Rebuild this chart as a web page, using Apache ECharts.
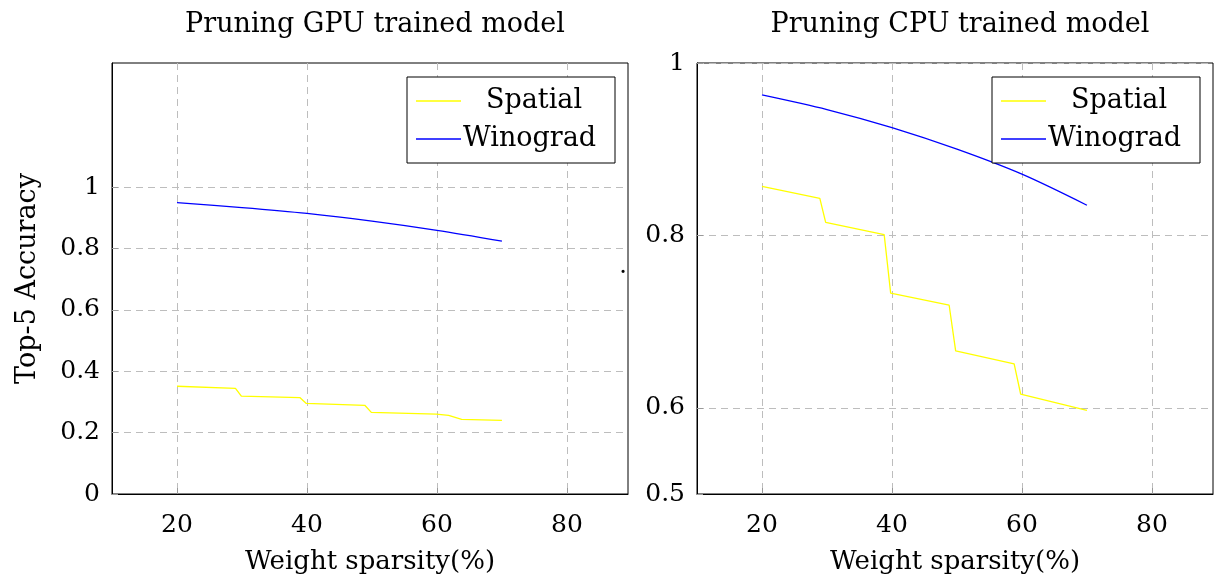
<!DOCTYPE html>
<html>
<head>
<meta charset="utf-8">
<script src="https://cdn.jsdelivr.net/npm/echarts@6/dist/echarts.min.js"></script>
<style>
  html, body { margin: 0; padding: 0; background: #fff; }
  #main { width: 1225px; height: 583px; }
</style>
</head>
<body>
<div id="main"></div>
<script>
// sparsity (%) on x, top-5 accuracy on y
var xTicks = [20, 40, 60, 80]
var gpuYTicks = [0, 0.2, 0.4, 0.6, 0.8, 1]
var cpuYTicks = [0.5, 0.6, 0.8, 1]

var gpuSpatialX = [20, 29, 29.9, 38.9, 39.9, 48.9, 49.9, 59.9, 61.8, 63.8, 70]
var gpuSpatialY = [0.351, 0.344, 0.319, 0.314, 0.295, 0.289, 0.266, 0.260, 0.256, 0.243, 0.240]
var gpuWinoX = [20, 30, 40, 50, 60, 70]
var gpuWinoY = [0.949, 0.933, 0.914, 0.889, 0.859, 0.824]

var cpuSpatialX = [20, 28.9, 29.8, 38.8, 39.8, 48.8, 49.8, 58.8, 59.8, 70]
var cpuSpatialY = [0.857, 0.843, 0.815, 0.801, 0.733, 0.719, 0.666, 0.651, 0.616, 0.597]
var cpuWinoX = [20, 30, 40, 50, 60, 70]
var cpuWinoY = [0.963, 0.946, 0.925, 0.900, 0.871, 0.835]

var font = '"DejaVu Serif", "Liberation Serif", serif'

function pairs (xs, ys) {
    return xs.map(function (x, i) { return [x, ys[i]] })
}

function xAxisOf (idx) {
    return {
        gridIndex: idx,
        type: 'value',
        min: 10,
        max: 89.4,
        name: 'Weight sparsity(%)',
        nameLocation: 'middle',
        nameGap: 55,
        nameTextStyle: { fontFamily: font, fontSize: 26, color: '#000' },
        axisLine: { show: true, onZero: false, lineStyle: { color: '#000', width: 1 } },
        axisTick: { show: true, inside: true, length: 6, customValues: xTicks, lineStyle: { color: '#999' } },
        axisLabel: { customValues: xTicks, margin: 19, fontFamily: font, fontSize: 25, color: '#000' },
        splitLine: { show: true, lineStyle: { color: '#bdbdbd', type: [7, 5], width: 1 } }
    }
}

function yAxisOf (idx, min, max, ticks) {
    return {
        gridIndex: idx,
        type: 'value',
        min: min,
        max: max,
        axisLine: { show: true, onZero: false, lineStyle: { color: '#000', width: 1 } },
        axisTick: { show: true, inside: true, length: 6, customValues: ticks, lineStyle: { color: '#999' } },
        axisLabel: { customValues: ticks, margin: 12, fontFamily: font, fontSize: 25, color: '#000' },
        splitLine: { show: true, lineStyle: { color: '#bdbdbd', type: [7, 5], width: 1 } }
    }
}

function lineSeries (name, idx, data, color, smooth) {
    return {
        name: name,
        type: 'line',
        xAxisIndex: idx,
        yAxisIndex: idx,
        data: data,
        smooth: smooth,
        showSymbol: false,
        lineStyle: { color: color, width: 1.3 },
        itemStyle: { color: color },
        z: 3
    }
}

// legend box drawn by hand, pgfplots style
function legendBox (x0) {
    return [
        { type: 'rect', z: 100, shape: { x: x0, y: 77, width: 208, height: 86 },
          style: { fill: '#fff', stroke: '#000', lineWidth: 1 } },
        { type: 'line', z: 101, shape: { x1: x0 + 9, y1: 101, x2: x0 + 54, y2: 101 },
          style: { stroke: 'yellow', lineWidth: 1.3 } },
        { type: 'line', z: 101, shape: { x1: x0 + 9, y1: 139, x2: x0 + 54, y2: 139 },
          style: { stroke: 'blue', lineWidth: 1.3 } },
        { type: 'text', z: 101, x: x0 + 127, y: 101,
          style: { text: 'Spatial', font: '27px ' + font, fill: '#000', align: 'center', verticalAlign: 'middle' } },
        { type: 'text', z: 101, x: x0 + 56, y: 139,
          style: { text: 'Winograd', font: '27px ' + font, fill: '#000', align: 'left', verticalAlign: 'middle' } }
    ]
}

var chart = echarts.init(document.getElementById('main'), null, { renderer: 'canvas' })

chart.setOption({
    backgroundColor: '#fff',
    animation: false,
    title: [
        { text: 'Pruning GPU trained model', left: 370, top: 6, textAlign: 'center',
          textStyle: { fontFamily: font, fontSize: 27, fontWeight: 'normal', color: '#000' } },
        { text: 'Pruning CPU trained model', left: 955, top: 6, textAlign: 'center',
          textStyle: { fontFamily: font, fontSize: 27, fontWeight: 'normal', color: '#000' } }
    ],
    grid: [
        { left: 112, top: 63, width: 516, height: 431, show: true, borderColor: '#000', borderWidth: 1, backgroundColor: 'transparent' },
        { left: 697, top: 63, width: 516, height: 431, show: true, borderColor: '#000', borderWidth: 1, backgroundColor: 'transparent' }
    ],
    xAxis: [xAxisOf(0), xAxisOf(1)],
    yAxis: [
        Object.assign(yAxisOf(0, 0, 1.404, gpuYTicks), {
            name: 'Top-5 Accuracy',
            nameLocation: 'middle',
            nameGap: 71,
            nameRotate: 90,
            nameTextStyle: { fontFamily: font, fontSize: 27, color: '#000' }
        }),
        yAxisOf(1, 0.5, 1, cpuYTicks)
    ],
    series: [
        lineSeries('Spatial', 0, pairs(gpuSpatialX, gpuSpatialY), 'yellow', false),
        lineSeries('Winograd', 0, pairs(gpuWinoX, gpuWinoY), 'blue', 0.3),
        lineSeries('Spatial', 1, pairs(cpuSpatialX, cpuSpatialY), 'yellow', false),
        lineSeries('Winograd', 1, pairs(cpuWinoX, cpuWinoY), 'blue', 0.3)
    ],
    graphic: legendBox(407).concat(legendBox(992)).concat([
        { type: 'text', x: 623, y: 279, style: { text: '.', font: '24px ' + font, fill: '#000', align: 'center', verticalAlign: 'bottom' } }
    ])
})
</script>
</body>
</html>
